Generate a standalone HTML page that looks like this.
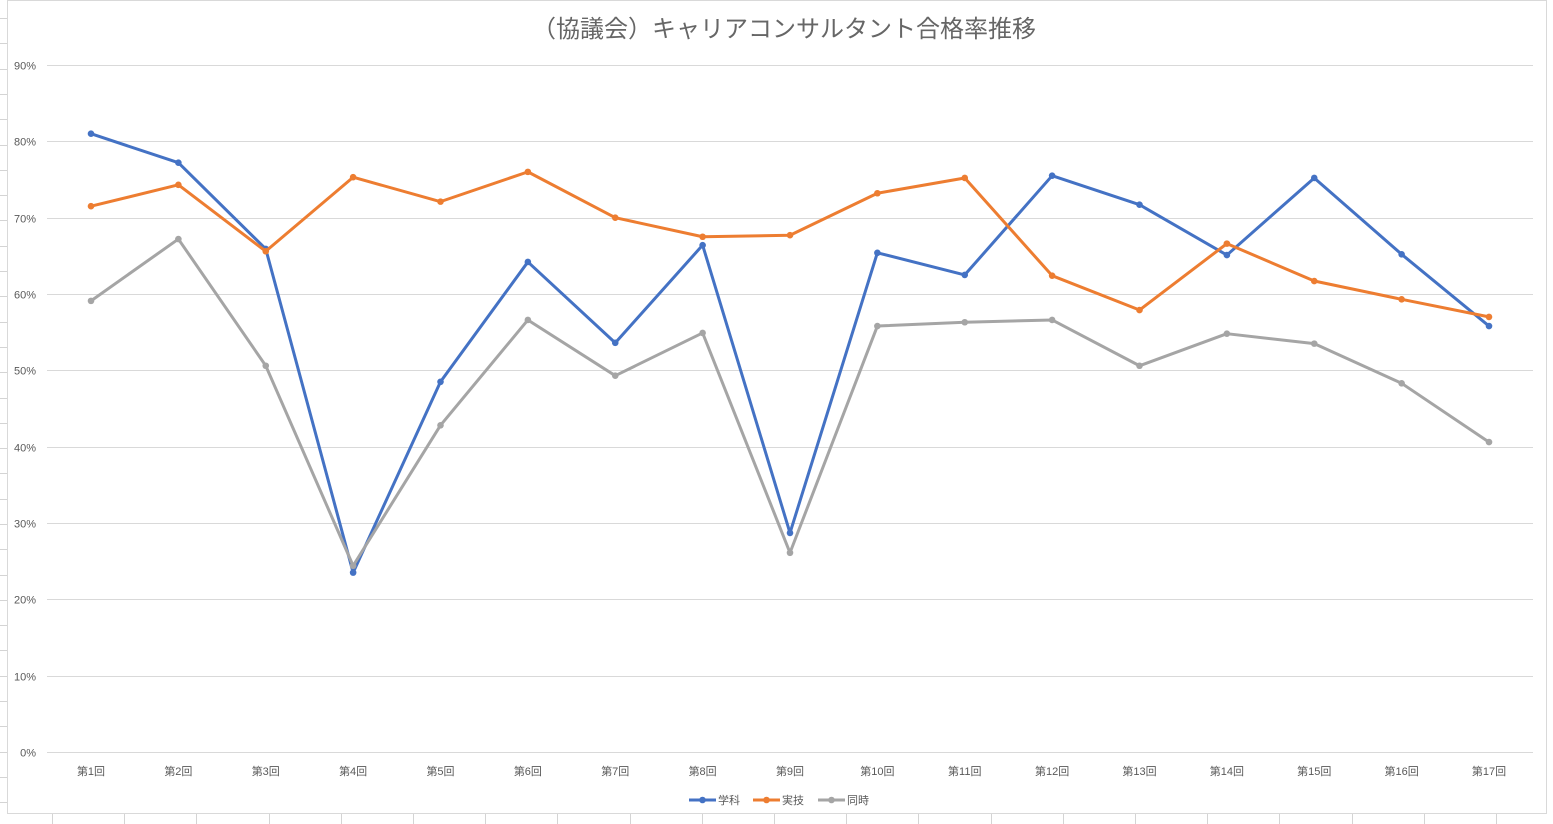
<!DOCTYPE html>
<html><head><meta charset="utf-8">
<style>
body{margin:0;width:1553px;height:824px;background:#fff;overflow:hidden;font-family:"Liberation Sans","Noto Sans CJK JP",sans-serif;}
svg{display:block}
</style></head>
<body>
<svg id="chart" width="1553" height="824" xmlns="http://www.w3.org/2000/svg">
<g id="sheetgrid" stroke="#d4d4d4" stroke-width="1"></g>
<rect x="7.5" y="0.5" width="1539" height="813" fill="#fff" stroke="#d9d9d9"/>
<text x="784" y="37" text-anchor="middle" font-size="24" fill="#666">（協議会）キャリアコンサルタント合格率推移</text>
<g id="grid"></g>
<g id="yaxis"></g>
<g id="xaxis"></g>
<g id="series"></g>
<g id="legend"></g>
</svg>
<script>
const categories=["第1回","第2回","第3回","第4回","第5回","第6回","第7回","第8回","第9回","第10回","第11回","第12回","第13回","第14回","第15回","第16回","第17回"];
const gakka=[81.0,77.2,65.9,23.5,48.5,64.2,53.6,66.4,28.7,65.4,62.5,75.5,71.7,65.1,75.2,65.2,55.8];
const jitsugi=[71.5,74.3,65.6,75.3,72.1,76.0,70.0,67.5,67.7,73.2,75.2,62.4,57.9,66.6,61.7,59.3,57.0];
const doji=[59.1,67.2,50.6,24.4,42.8,56.6,49.3,54.9,26.1,55.8,56.3,56.6,50.6,54.8,53.5,48.3,40.6];
const seriesNames=["学科","実技","同時"];
const yTicks=[0,10,20,30,40,50,60,70,80,90];
const colors=["#4472c4","#ed7d31","#a5a5a5"];
const NS="http://www.w3.org/2000/svg";
const x0=91,x1=1489,y0=752,yTop=65;
const xs=i=>x0+(x1-x0)*i/(categories.length-1);
const ys=v=>y0-(y0-yTop)*v/90;
function mk(tag,attrs,parent){const e=document.createElementNS(NS,tag);for(const k in attrs)e.setAttribute(k,attrs[k]);parent.appendChild(e);return e;}
const sg=document.getElementById('sheetgrid');
for(let y=18;y<824;y+=25.3){const l=mk('line',{x1:0,x2:7,y1:Math.round(y)+.5,y2:Math.round(y)+.5},sg);

}
for(let x=52;x<1553;x+=72.2){const l=mk('line',{x1:Math.round(x)+.5,x2:Math.round(x)+.5,y1:814,y2:824},sg);

}
const grid=document.getElementById('grid'),ya=document.getElementById('yaxis');
yTicks.forEach(t=>{const y=Math.round(ys(t))+.5;
const l=mk('line',{x1:47,x2:1533,y1:y,y2:y,stroke:'#d9d9d9','stroke-width':1},grid);


const tx=mk('text',{x:36,y:y+4,'text-anchor':'end','font-size':11,fill:'#595959'},ya);tx.textContent=t+'%';

});
const xa=document.getElementById('xaxis');
categories.forEach((c,i)=>{const t=mk('text',{x:xs(i),y:775,'text-anchor':'middle','font-size':11,fill:'#595959'},xa);t.textContent=c;

});
const sv=document.getElementById('series');
[gakka,jitsugi,doji].forEach((d,s)=>{
const g=mk('g',{},sv);


const p=mk('polyline',{points:d.map((v,i)=>xs(i)+','+ys(v)).join(' '),fill:'none',stroke:colors[s],'stroke-width':3,'stroke-linejoin':'round'},g);


d.forEach((v,i)=>{const c=mk('circle',{cx:xs(i),cy:ys(v),r:3.3,fill:colors[s]},g);

});});
const lg=document.getElementById('legend');
const lx=[689,753,818];
seriesNames.forEach((n,s)=>{const g=mk('g',{},lg);


mk('line',{x1:lx[s],x2:lx[s]+27,y1:800,y2:800,stroke:colors[s],'stroke-width':3},g);
mk('circle',{cx:lx[s]+13.5,cy:800,r:3.3,fill:colors[s]},g);
const t=mk('text',{x:lx[s]+29,y:804,'font-size':11,fill:'#595959'},g);t.textContent=n;});
</script>
</body></html>
